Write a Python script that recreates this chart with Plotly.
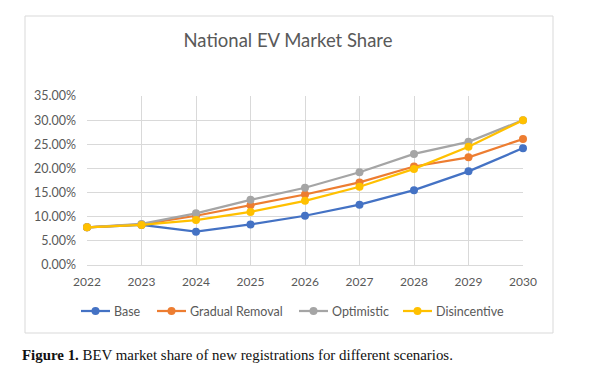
import plotly.graph_objects as go

years = [2022, 2023, 2024, 2025, 2026, 2027, 2028, 2029, 2030]
base = [7.8, 8.3, 6.9, 8.4, 10.2, 12.5, 15.5, 19.4, 24.2]
gradual = [7.8, 8.4, 10.2, 12.4, 14.6, 17.1, 20.4, 22.3, 26.1]
optimistic = [7.8, 8.5, 10.7, 13.5, 16.0, 19.2, 23.0, 25.5, 30.0]
disincentive = [7.8, 8.3, 9.3, 11.0, 13.3, 16.2, 19.9, 24.5, 30.0]
series_names = ["Base", "Gradual Removal", "Optimistic", "Disincentive"]
colors = ["#4472C4", "#ED7D31", "#A5A5A5", "#FFC000"]
y_ticks = [0, 5, 10, 15, 20, 25, 30, 35]

fig = go.Figure()
for name, vals, c in zip(series_names, [base, gradual, optimistic, disincentive], colors):
    fig.add_trace(go.Scatter(
        x=years, y=vals, name=name, mode="lines+markers",
        line=dict(color=c, width=2.25),
        marker=dict(color=c, size=8),
        cliponaxis=False, showlegend=False,
    ))

# page body has an 8px margin; work in reference (window) pixel coords
OFF = 8
SW, SH = 605, 369
W, H = SW - OFF, SH - OFF
L, R, T, B = 87, 523, 96, 265  # plot area in window px
pw, ph = R - L, B - T

def px2x(px):
    return (px - L) / pw

def px2y(py):
    return (B - py) / ph

fig.add_shape(type="rect", xref="paper", yref="paper",
              x0=px2x(25), x1=px2x(553), y0=px2y(333), y1=px2y(16),
              line=dict(color="#D9D9D9", width=1), fillcolor="rgba(0,0,0,0)", layer="below")

# custom legend
leg_y = 311
leg_starts = [81, 157, 299, 403]
for name, c, x0 in zip(series_names, colors, leg_starts):
    fig.add_shape(type="line", xref="paper", yref="paper",
                  x0=px2x(x0), x1=px2x(x0 + 29), y0=px2y(leg_y), y1=px2y(leg_y),
                  line=dict(color=c, width=2.25))
    cx = x0 + 14.5
    fig.add_shape(type="circle", xref="paper", yref="paper",
                  x0=px2x(cx - 4), x1=px2x(cx + 4), y0=px2y(leg_y + 4), y1=px2y(leg_y - 4),
                  line=dict(color=c, width=0), fillcolor=c)
    fig.add_annotation(xref="paper", yref="paper", x=px2x(x0 + 31), y=px2y(leg_y),
                       xanchor="left", yanchor="middle", showarrow=False, text=name,
                       font=dict(family="Lato", size=12.5, color="#595959"))

fig.add_annotation(xref="paper", yref="paper", x=px2x(20), y=px2y(355),
                   xanchor="left", yanchor="middle", showarrow=False,
                   text="<b>Figure 1.</b> BEV market share of new registrations for different scenarios.",
                   font=dict(family="Liberation Serif", size=14.9, color="#111111"))

fig.update_layout(
    width=W, height=H,
    margin=dict(l=L - OFF, r=SW - R, t=T - OFF, b=SH - B, autoexpand=False),
    paper_bgcolor="white", plot_bgcolor="white",
    font=dict(family="Lato", color="#595959", size=12),
    title=dict(text="National EV Market Share", x=(288 - OFF) / W, xanchor="center",
               y=1 - (41 - OFF) / H, yanchor="middle",
               font=dict(family="Lato", size=18.5, color="#595959")),
    showlegend=False,
    xaxis=dict(range=[2022, 2030], tickmode="array", tickvals=years,
               ticktext=[str(y) for y in years],
               showgrid=True, gridcolor="#D9D9D9", gridwidth=1,
               showline=True, linecolor="#D9D9D9", zeroline=False,
               ticks="", ticklabelstandoff=6, tickfont=dict(size=12), automargin=False),
    yaxis=dict(range=[0, 35], tickmode="array", tickvals=y_ticks,
               ticktext=[f"{v:.2f}%" for v in y_ticks],
               showgrid=True, gridcolor="#D9D9D9", gridwidth=1,
               zeroline=False, showline=False, ticks="", tickfont=dict(size=12.5),
               ticklabelstandoff=10, automargin=False),
)

fig.write_html("out.html")
